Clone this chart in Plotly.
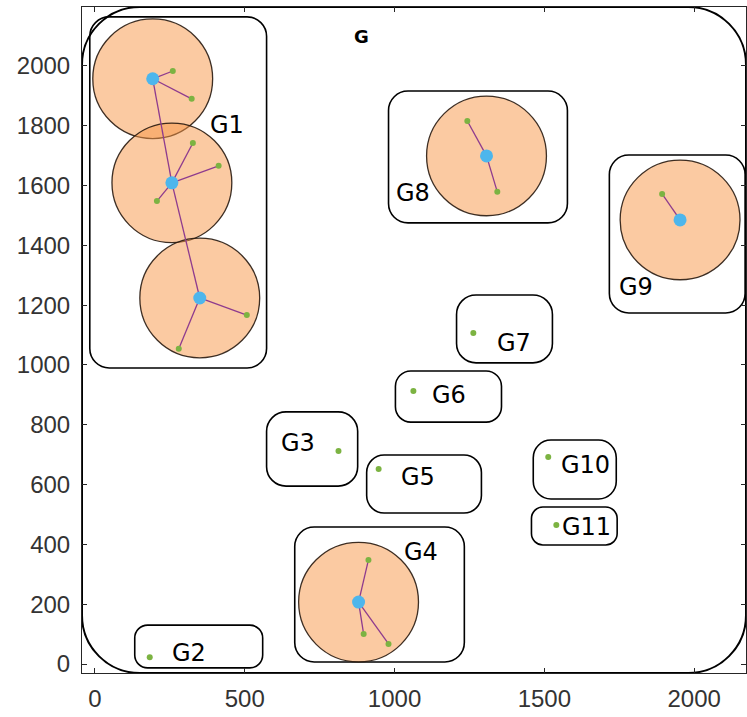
import plotly.graph_objects as go

# ---- cluster data -------------------------------------------------------
# cluster heads (blue) and their member nodes (green)
head_x = [193, 257, 350, 1307, 1953, 880]
head_y = [1957, 1609, 1224, 1699, 1485, 207]
members_x = [[260, 323], [327, 413, 207], [507, 280], [1243, 1343], [1893], [913, 897, 980]]
members_y = [[1983, 1890], [1742, 1666, 1548], [1167, 1054], [1816, 1579], [1572], [348, 100, 67]]
# heads that are chained together inside group G1
chain_idx = [0, 1, 2]
coverage_radius = 200

# isolated nodes
single_x = [183, 813, 947, 1063, 1263, 1513, 1540]
single_y = [23, 712, 652, 913, 1107, 692, 465]

# group bounding boxes: x0, x1, y0, y1
group_names = ["G1", "G2", "G3", "G4", "G5", "G6", "G7", "G8", "G9", "G10", "G11"]
group_x0 = [-17, 133, 573, 667, 907, 1003, 1207, 980, 1717, 1463, 1457]
group_x1 = [573, 560, 877, 1233, 1290, 1357, 1527, 1577, 2170, 1740, 1743]
group_y0 = [990, -13, 595, 7, 505, 809, 1007, 1475, 1174, 552, 398]
group_y1 = [2164, 130, 843, 458, 699, 980, 1234, 1916, 1702, 749, 525]
label_x = [440, 313, 677, 1090, 1080, 1183, 1400, 1060, 1807, 1637, 1640]
label_y = [1803, 37, 739, 375, 625, 900, 1074, 1575, 1261, 666, 458]

# whole field
field_x = [-43, 2173]
field_y = [-30, 2197]
field_label = ("G", 890, 2097)

x_ticks = [0, 500, 1000, 1500, 2000]
y_ticks = [0, 200, 400, 600, 800, 1000, 1200, 1400, 1600, 1800, 2000]


def rounded_rect(x0, x1, y0, y1, r):
    k = 0.5523 * r
    return (
        f"M {x0 + r},{y0} L {x1 - r},{y0} "
        f"C {x1 - r + k},{y0} {x1},{y0 + r - k} {x1},{y0 + r} "
        f"L {x1},{y1 - r} "
        f"C {x1},{y1 - r + k} {x1 - r + k},{y1} {x1 - r},{y1} "
        f"L {x0 + r},{y1} "
        f"C {x0 + r - k},{y1} {x0},{y1 - r + k} {x0},{y1 - r} "
        f"L {x0},{y0 + r} "
        f"C {x0},{y0 + r - k} {x0 + r - k},{y0} {x0 + r},{y0} Z"
    )


fig = go.Figure()
shapes = []

# outer field boundary
fw = field_x[1] - field_x[0]
fh = field_y[1] - field_y[0]
shapes.append(dict(type="path", layer="below",
                   path=rounded_rect(field_x[0], field_x[1], field_y[0], field_y[1], 0.087 * min(fw, fh)),
                   line=dict(color="black", width=2)))

# group boxes
for x0, x1, y0, y1 in zip(group_x0, group_x1, group_y0, group_y1):
    r = 0.3 * min(x1 - x0, y1 - y0)
    r = min(r, 65)
    shapes.append(dict(type="path", layer="below",
                       path=rounded_rect(x0, x1, y0, y1, r),
                       line=dict(color="black", width=1.6)))

# coverage discs around cluster heads
for hx, hy in zip(head_x, head_y):
    shapes.append(dict(type="circle", layer="below", xref="x", yref="y",
                       x0=hx - coverage_radius, x1=hx + coverage_radius,
                       y0=hy - coverage_radius, y1=hy + coverage_radius,
                       fillcolor="rgba(248,150,70,0.5)",
                       line=dict(color="rgba(40,25,15,0.9)", width=1.3)))

# links from heads to members
lx, ly = [], []
for hx, hy, mxs, mys in zip(head_x, head_y, members_x, members_y):
    for mx, my in zip(mxs, mys):
        lx += [hx, mx, None]
        ly += [hy, my, None]
for a, b in zip(chain_idx[:-1], chain_idx[1:]):
    lx += [head_x[a], head_x[b], None]
    ly += [head_y[a], head_y[b], None]
fig.add_trace(go.Scatter(x=lx, y=ly, mode="lines",
                         line=dict(color="#8e3b8e", width=1.3), hoverinfo="skip"))

# member and isolated nodes
all_mx = [v for row in members_x for v in row] + single_x
all_my = [v for row in members_y for v in row] + single_y
fig.add_trace(go.Scatter(x=all_mx, y=all_my, mode="markers",
                         marker=dict(color="#7cb342", size=6)))

# cluster heads
fig.add_trace(go.Scatter(x=head_x, y=head_y, mode="markers",
                         marker=dict(color="#4db6ec", size=13)))

annotations = []
for name, tx, ty in zip(group_names, label_x, label_y):
    annotations.append(dict(x=tx, y=ty, text=name, showarrow=False,
                            font=dict(family="DejaVu Sans", size=24, color="black"),
                            xanchor="center", yanchor="middle"))
annotations.append(dict(x=field_label[1], y=field_label[2], text=f"<b>{field_label[0]}</b>",
                        showarrow=False, font=dict(family="DejaVu Sans", size=18, color="black"),
                        xanchor="center", yanchor="middle"))

axis_common = dict(showgrid=False, zeroline=False, showline=True, linecolor="#262626",
                   linewidth=1, mirror="ticks", ticks="inside", ticklen=5,
                   tickcolor="#262626", tickwidth=1,
                   tickfont=dict(family="Liberation Sans, Arial", size=24, color="#333333"))

fig.update_layout(
    width=747, height=717,
    margin=dict(l=82, r=1, t=7, b=44),
    paper_bgcolor="white", plot_bgcolor="white",
    showlegend=False,
    shapes=shapes, annotations=annotations,
    xaxis=dict(range=field_x, tickvals=x_ticks, ticktext=[str(v) for v in x_ticks], **axis_common),
    yaxis=dict(range=field_y, tickvals=y_ticks, ticktext=[str(v) for v in y_ticks], **axis_common),
)
fig.update_xaxes(ticklabelstandoff=4)
fig.update_yaxes(ticklabelstandoff=6)

fig.write_html("out.html")
